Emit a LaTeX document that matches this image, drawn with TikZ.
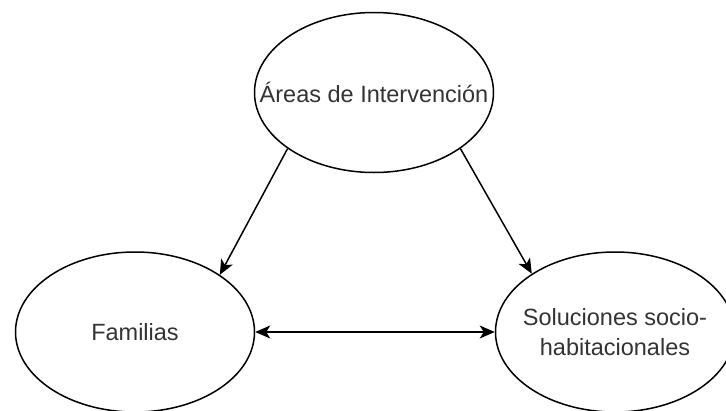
\documentclass[tikz,border=0pt]{standalone}
\usepackage{fontspec}
\setmainfont{Liberation Sans}
\usetikzlibrary{shapes.geometric,arrows.meta}
\begin{document}
\begin{tikzpicture}[x=1pt,y=-1pt,
  bubble/.style={ellipse,draw=black,line width=1.5pt,minimum width=239pt,minimum height=160pt,inner sep=0pt},
  txt/.style={font=\fontsize{23.5}{30}\selectfont,text=black!80,align=center,inner sep=0pt},
  conn/.style={line width=1.5pt,-{Stealth[length=15pt,width=13pt,inset=4pt]}},
  conn2/.style={line width=1.5pt,{Stealth[length=15pt,width=13pt,inset=4pt]}-{Stealth[length=15pt,width=13pt,inset=4pt]}}]
\useasboundingbox (0,0) rectangle (726,410);
\node[bubble] (top) at (374,92.5) {};
\node[bubble] (fam) at (135,332) {};
\node[bubble] (sol) at (615,332) {};
\node[txt] (toptxt) at (top.center) {Áreas de Intervención};
\node[txt] (famtxt) at (fam.center) {Familias};
\node[txt] (soltxt) at (sol.center) {Soluciones socio-\\habitacionales};
\draw[conn] (top.213.8) -- (fam.34.1);
\draw[conn] (top.-33.2) -- (sol.145.2);
\draw[conn2] (fam.east) -- (sol.west);
\end{tikzpicture}
\end{document}
